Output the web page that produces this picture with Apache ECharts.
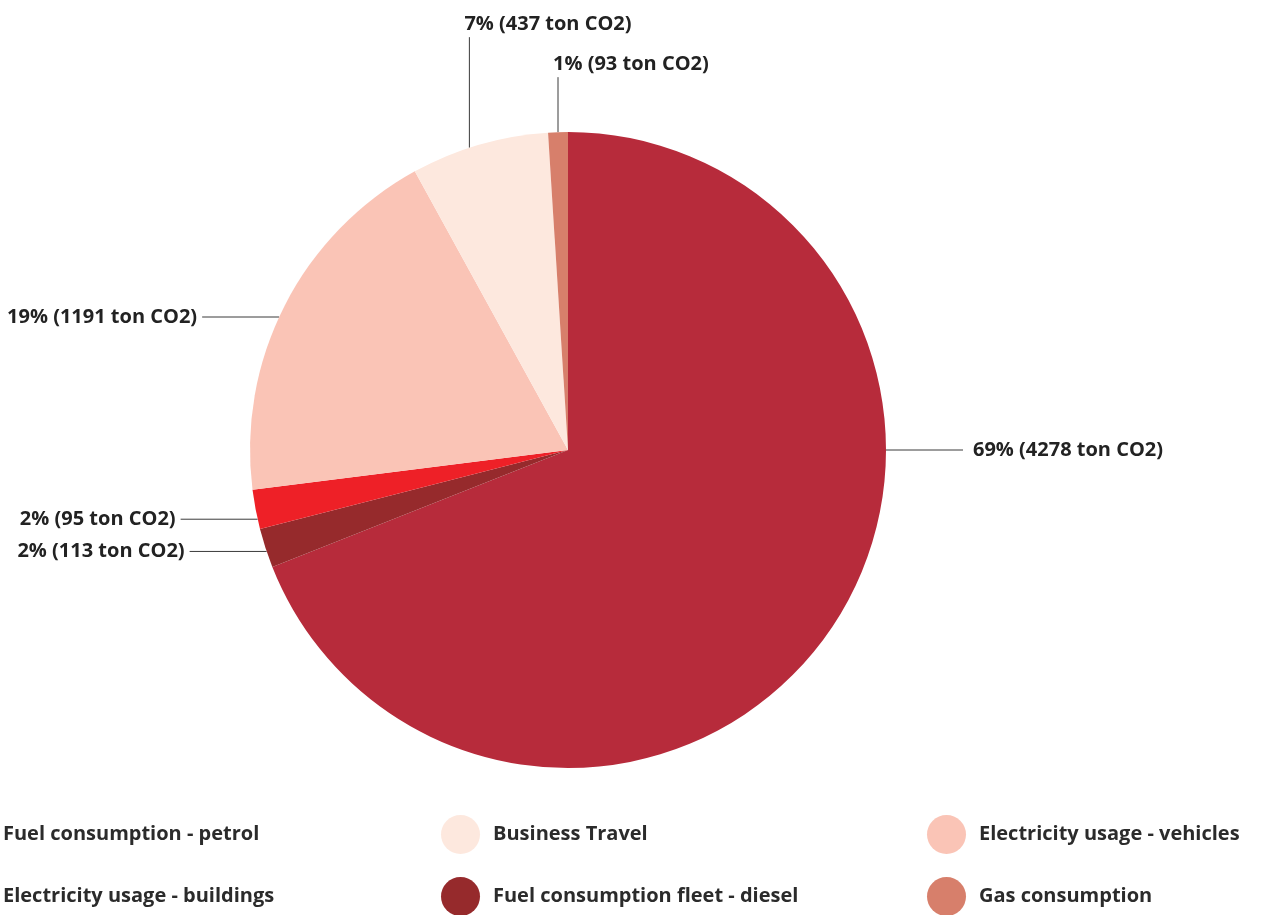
<!DOCTYPE html>
<html><head><meta charset="utf-8">
<script src="https://cdn.jsdelivr.net/npm/echarts@6/dist/echarts.min.js"></script>
<style>html,body{margin:0;padding:0;background:#fff}#c{width:1267px;height:915px}</style>
</head><body><div id="c"></div>
<script>
// Data (clockwise from 12 o'clock)
const categories = ['Fuel consumption - petrol','Fuel consumption fleet - diesel','Electricity usage - buildings','Electricity usage - vehicles','Business Travel','Gas consumption'];
const sharesPct = [69, 2, 2, 19, 7, 1];           // slice sizes as drawn (%)
const tonnesCO2 = [4278, 113, 95, 1191, 437, 93]; // label values (ton CO2)
const colors = ['#b72b3b','#962a2c','#ee2027','#fac4b6','#fde8de','#d77f6b'];
const legendCols = [
  ['Fuel consumption - petrol','Electricity usage - buildings'],
  ['Business Travel','Fuel consumption fleet - diesel'],
  ['Electricity usage - vehicles','Gas consumption']
];

const CX = 568, CY = 450, R = 318;
const totalT = tonnesCO2.reduce((a,b)=>a+b,0);
const startsT = []; let acc = 0;
tonnesCO2.forEach(v=>{ startsT.push(acc/totalT*360); acc += v; });
const spansT = tonnesCO2.map(v=>v/totalT*360);

// precompute leader anchors
const anchors = tonnesCO2.map((v,i)=>{
  let ang = startsT[i] + spansT[i]/2;
  if (startsT[i] <= 90 && startsT[i]+spansT[i] >= 90) ang = 90;
  const rad = ang*Math.PI/180;
  const sx = Math.sin(rad), sy = -Math.cos(rad);
  const a = {ax: CX + R*sx, ay: CY + R*sy, sx, sy};
  a.type = (Math.abs(sx) < 0.5 && sy < 0) ? 'up' : (sx > 0 ? 'right' : 'left');
  return a;
});
const ups = anchors.map((a,i)=>i).filter(i=>anchors[i].type==='up').sort((a,b)=>anchors[b].ax-anchors[a].ax);
let prevEnd = null, prevX = null;
ups.forEach(i=>{
  const a = anchors[i];
  if (a.sx > -0.1) { a.ax = CX + R*Math.sin(Math.PI*2*(1 - sharesPct[i]/200)); a.ay = CY - Math.sqrt(R*R-(a.ax-CX)*(a.ax-CX)); }
  let end = a.ay - 55;
  if (prevEnd !== null && prevX - a.ax < 200) end = Math.min(end, prevEnd - 40);
  a.end = end; prevEnd = end; prevX = a.ax;
});

function layoutLabel(p){
  const a = anchors[p.dataIndex];
  if (a.type === 'up') {
    return {x: a.ax - 5, y: a.end - 3, align:'left', verticalAlign:'bottom', labelLinePoints:[[a.ax,a.ay],[a.ax,a.end]]};
  }
  if (a.type === 'right') {
    const end = a.ax + 77;
    return {x: end + 10, y: a.ay, align:'left', verticalAlign:'middle', labelLinePoints:[[a.ax,a.ay],[end,a.ay]]};
  }
  const end = a.ax - 77;
  return {x: end - 5, y: a.ay, align:'right', verticalAlign:'middle', labelLinePoints:[[a.ax,a.ay],[end,a.ay]]};
}

const legendBase = {
  orient:'vertical', top: 815, height: 200, padding: 0, icon:'circle', itemWidth:39, itemHeight:39, itemGap:23,
  textStyle:{fontFamily:'"Open Sans", sans-serif', fontWeight:'bold', fontSize:20, color:'#2b2b2b', padding:[0,0,0,8]},
  selectedMode:false
};
const legendLefts = [-49, 441, 927];

const chart = echarts.init(document.getElementById('c'), null, {renderer:'canvas'});
chart.setOption({
  backgroundColor:'#fff',
  animation:false,
  color: colors,
  legend: legendCols.map((d,k)=>Object.assign({}, legendBase, {left: legendLefts[k], data: d})),
  series:[{
    type:'pie',
    center:[CX, CY], radius: R,
    startAngle: 90, clockwise: true,
    avoidLabelOverlap:false,
    data: categories.map((n,i)=>({name:n, value:sharesPct[i]})),
    label:{
      show:true,
      formatter: p => sharesPct[p.dataIndex] + '% (' + tonnesCO2[p.dataIndex] + ' ton CO2)',
      fontFamily:'"Open Sans", sans-serif', fontWeight:'bold', fontSize:20, color:'#222'
    },
    labelLine:{show:true, length:20, length2:40, lineStyle:{color:'#3a3a3a', width:1}},
    labelLayout: layoutLabel,
    itemStyle:{borderWidth:0},
    emphasis:{disabled:true}
  }]
});
</script></body></html>
